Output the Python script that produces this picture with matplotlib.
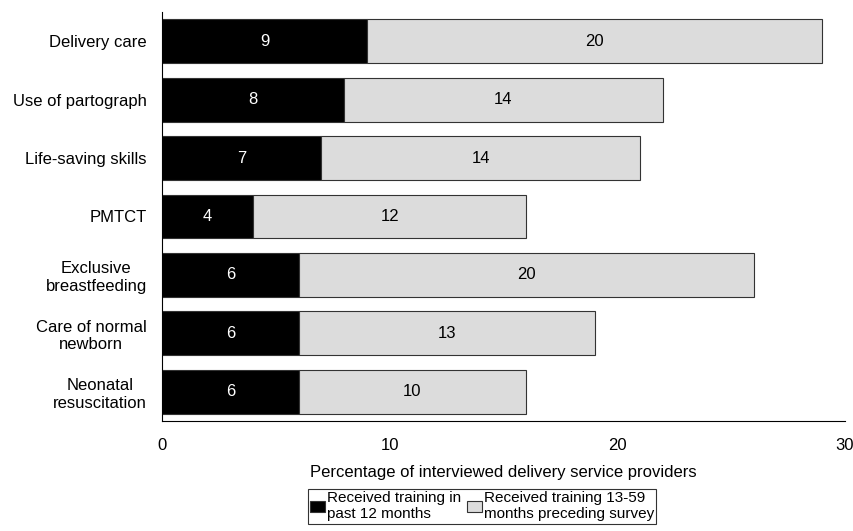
import numpy as np
import matplotlib.pyplot as plt

plt.rcParams['font.family'] = ['Liberation Sans', 'DejaVu Sans']

categories = ["Delivery care", "Use of partograph", "Life-saving skills", "PMTCT",
              "Exclusive\nbreastfeeding", "Care of normal\nnewborn", "Neonatal\nresuscitation"]
past_12 = [9, 8, 7, 4, 6, 6, 6]
months_13_59 = [20, 14, 14, 12, 20, 13, 10]
series_labels = ["Received training in\npast 12 months", "Received training 13-59\nmonths preceding survey"]

fs = 12
fig = plt.figure(figsize=(8.54, 5.31), dpi=100)
ax = fig.add_axes([162 / 854, 1 - 421 / 531, 683 / 854, 409 / 531])

y = np.arange(len(categories))
h = 0.75
b1 = ax.barh(y, past_12, height=h, color="black", edgecolor="#333333", linewidth=0.8,
             label=series_labels[0])
b2 = ax.barh(y, months_13_59, left=past_12, height=h, color="#dcdcdc", edgecolor="#333333",
             linewidth=0.8, label=series_labels[1])

for i in range(len(categories)):
    ax.text(past_12[i] / 2, y[i], str(past_12[i]), ha="center", va="center", color="white", fontsize=fs)
    ax.text(past_12[i] + months_13_59[i] / 2, y[i], str(months_13_59[i]), ha="center", va="center",
            color="black", fontsize=fs)

ax.set_xlim(0, 30)
ax.set_ylim(len(categories) - 0.5, -0.5)
ax.set_yticks(y)
ax.set_yticklabels(categories, fontsize=fs, multialignment="center")
ax.set_xticks([0, 10, 20, 30])
ax.tick_params(axis="both", length=0, labelsize=fs)
ax.tick_params(axis="x", pad=12)
ax.tick_params(axis="y", pad=11)
ax.spines["top"].set_visible(False)
ax.spines["right"].set_visible(False)
ax.set_xlabel("Percentage of interviewed delivery service providers", fontsize=fs, labelpad=9)

leg = fig.legend(handles=[b1, b2], loc="upper center", bbox_to_anchor=(482 / 854, 1 - 489 / 531), ncol=2,
                 frameon=True, fancybox=False, edgecolor="black", fontsize=11,
                 handlelength=1.0, handleheight=0.8, handletextpad=0.1, columnspacing=0.4,
                 borderpad=0.15, labelspacing=0.1, borderaxespad=0.0)
leg.get_frame().set_linewidth(0.8)

fig.savefig("out.png", dpi=100)
